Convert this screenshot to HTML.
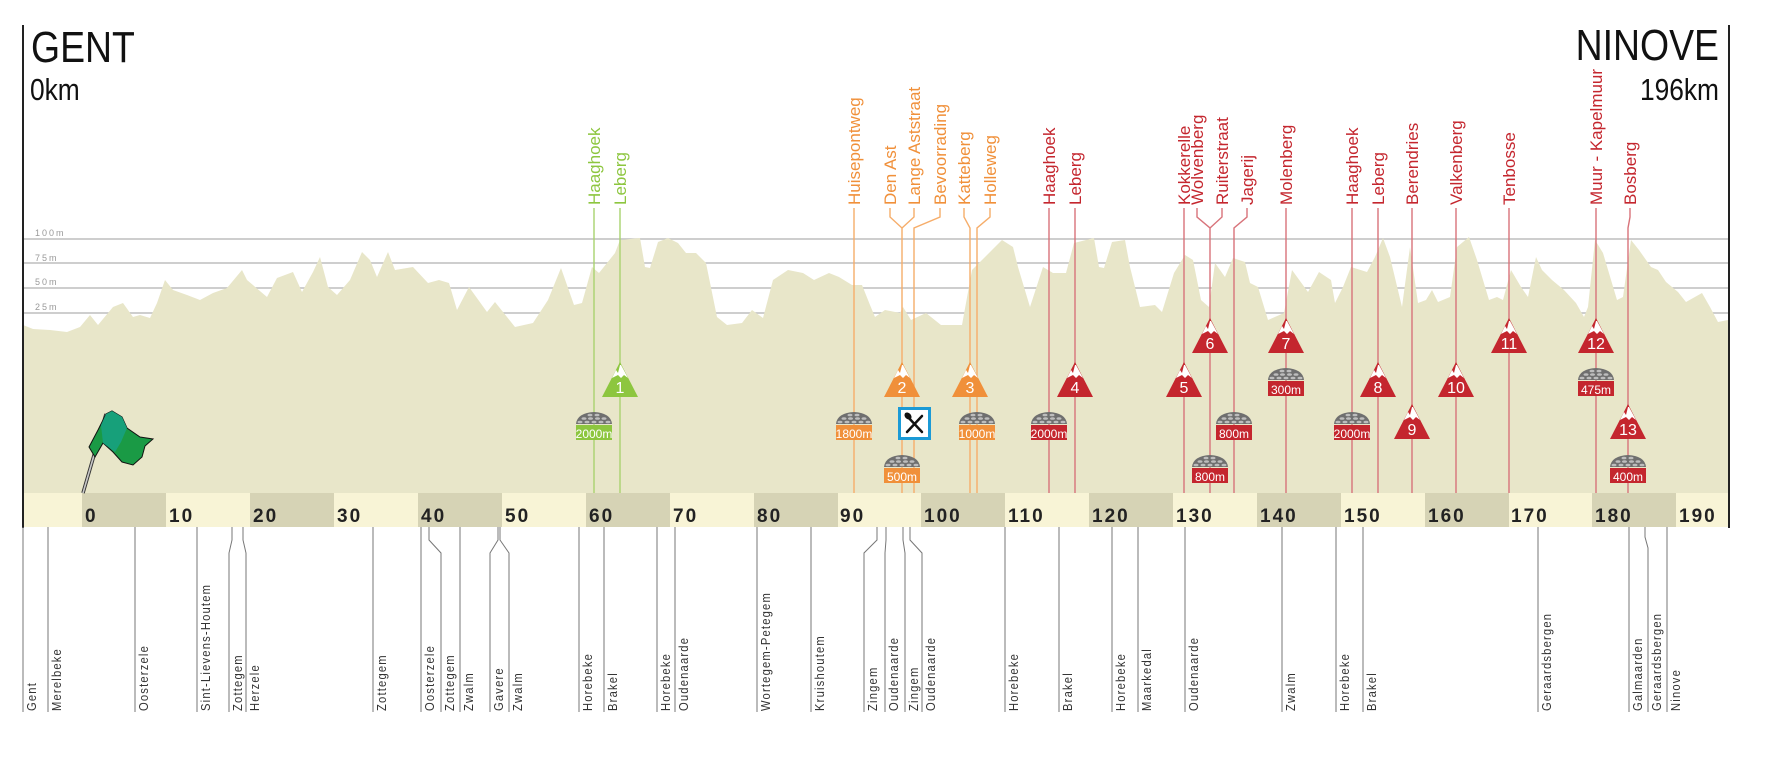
<!DOCTYPE html>
<html><head><meta charset="utf-8"><style>
html,body{margin:0;padding:0;background:#fff;}
svg{display:block;}
.n{font-family:"Liberation Sans Narrow","Liberation Sans",sans-serif;}
.tl{font-size:17px;}
.bl{font-size:13px;letter-spacing:1.4px;fill:#333;}
.km{font-size:19px;letter-spacing:2px;fill:#222;font-weight:bold;}
.cb{font-size:12px;fill:#fff;text-anchor:middle;}
.cn{font-size:16px;fill:#fff;text-anchor:middle;}
.gl{font-size:9px;letter-spacing:2px;fill:#999;}
</style></head><body>
<svg width="1768" height="768" viewBox="0 0 1768 768" xmlns="http://www.w3.org/2000/svg">
<defs>
<g id="cob">
<path d="M-18,12 Q-17,1 0,0 Q17,1 18,12 Z" fill="#6f6f6f"/>
<g fill="#bdbdbd">
<ellipse cx="-4" cy="3" rx="2.5" ry="1.3"/><ellipse cx="3" cy="3" rx="2.5" ry="1.3"/>
<ellipse cx="-10" cy="6.5" rx="2.5" ry="1.3"/><ellipse cx="-3.5" cy="6.5" rx="2.5" ry="1.3"/><ellipse cx="3.5" cy="6.5" rx="2.5" ry="1.3"/><ellipse cx="10" cy="6.5" rx="2.5" ry="1.3"/>
<ellipse cx="-14" cy="10" rx="2.5" ry="1.3"/><ellipse cx="-7" cy="10" rx="2.5" ry="1.3"/><ellipse cx="0" cy="10" rx="2.5" ry="1.3"/><ellipse cx="7" cy="10" rx="2.5" ry="1.3"/><ellipse cx="14" cy="10" rx="2.5" ry="1.3"/>
</g>
</g>
<polygon id="snow" points="-8,16 -4,8 -2,11 0,3 1,3 8,16 4,13 1,16 -2,13" fill="#fff"/>
</defs>

<g stroke="#bdbdbd" stroke-width="1.5">
<line x1="23" y1="239" x2="1728" y2="239"/>
<line x1="23" y1="263" x2="1728" y2="263"/>
<line x1="23" y1="288" x2="1728" y2="288"/>
<line x1="23" y1="313" x2="1728" y2="313"/>
</g>
<g class="n gl">
<text x="35" y="236">100m</text>
<text x="35" y="261">75m</text>
<text x="35" y="285">50m</text>
<text x="35" y="310">25m</text>
</g>

<polygon fill="#e8e6c9" points="23,493 23,325 33,329 50,330 67,332 80,327 90,315 98,325 113,307 123,303 133,317 140,315 150,318 157,303 165,280 173,290 187,295 200,300 213,293 227,288 242,270 247,280 267,297 277,278 293,272 302,292 313,272 320,257 328,287 337,295 350,280 362,252 370,260 377,277 388,252 395,270 413,267 428,283 439,280 449,283 457,310 469,287 487,312 495,302 515,327 533,323 548,300 561,268 574,305 582,303 592,267 599,273 615,253 620,240 640,238 645,267 650,268 658,242 668,238 678,243 686,253 696,253 706,263 717,317 727,325 742,323 752,310 763,318 773,280 788,270 803,273 814,280 829,273 839,277 852,285 862,285 870,305 875,317 885,310 900,313 903,307 911,320 926,313 941,325 962,325 972,270 982,260 992,250 1002,240 1013,247 1018,267 1030,307 1043,267 1053,273 1066,273 1074,243 1094,238 1099,267 1104,268 1112,242 1125,240 1130,267 1140,307 1155,305 1162,312 1174,273 1185,255 1193,260 1201,300 1209,307 1215,263 1225,277 1233,258 1245,262 1250,283 1258,287 1268,320 1284,313 1292,270 1308,292 1319,272 1331,280 1335,303 1343,287 1351,267 1367,272 1375,257 1383,238 1390,257 1402,307 1410,247 1418,303 1426,300 1432,290 1438,302 1450,297 1457,247 1469,237 1477,260 1489,300 1497,297 1503,300 1511,270 1521,287 1528,297 1536,257 1542,270 1552,280 1564,290 1576,303 1584,317 1588,307 1595,240 1603,253 1617,300 1623,297 1631,240 1639,250 1651,267 1658,270 1666,282 1678,292 1686,302 1702,293 1710,307 1718,322 1728,320 1728,493"/>

<rect x="23" y="493" width="1705" height="34" fill="#f8f4d6"/>
<g fill="#d6d3b5">
<rect x="82" y="493" width="84" height="34"/>
<rect x="250" y="493" width="84" height="34"/>
<rect x="418" y="493" width="84" height="34"/>
<rect x="586" y="493" width="84" height="34"/>
<rect x="754" y="493" width="84" height="34"/>
<rect x="921" y="493" width="84" height="34"/>
<rect x="1089" y="493" width="84" height="34"/>
<rect x="1257" y="493" width="84" height="34"/>
<rect x="1425" y="493" width="84" height="34"/>
<rect x="1592" y="493" width="84" height="34"/>
</g>
<g class="n km">
<text x="85" y="522">0</text>
<text x="169" y="522">10</text>
<text x="253" y="522">20</text>
<text x="337" y="522">30</text>
<text x="421" y="522">40</text>
<text x="505" y="522">50</text>
<text x="589" y="522">60</text>
<text x="673" y="522">70</text>
<text x="757" y="522">80</text>
<text x="840" y="522">90</text>
<text x="924" y="522">100</text>
<text x="1008" y="522">110</text>
<text x="1092" y="522">120</text>
<text x="1176" y="522">130</text>
<text x="1260" y="522">140</text>
<text x="1344" y="522">150</text>
<text x="1428" y="522">160</text>
<text x="1511" y="522">170</text>
<text x="1595" y="522">180</text>
<text x="1679" y="522">190</text>
</g>

<line x1="23" y1="25" x2="23" y2="528" stroke="#222" stroke-width="2"/>
<line x1="1729" y1="25" x2="1729" y2="528" stroke="#222" stroke-width="2"/>

<text class="n" transform="translate(31,62) scale(0.85,1)" font-size="44" fill="#111">GENT</text>
<text class="n" transform="translate(30,100) scale(0.85,1)" font-size="31" fill="#111">0km</text>
<text class="n" transform="translate(1719,60) scale(0.85,1)" font-size="44" fill="#111" text-anchor="end">NINOVE</text>
<text class="n" transform="translate(1719,100) scale(0.85,1)" font-size="31" fill="#111" text-anchor="end">196km</text>

<g fill="none" stroke-width="1.4">
<g stroke="#a9d36f">
<polyline points="594,208 594,493"/>
<polyline points="620,208 620,493"/>
</g>
<g stroke="#f6ad6a">
<polyline points="854,208 854,493"/>
<polyline points="890,208 890,217 902,228 902,493"/>
<polyline points="914,208 914,217 902,228"/>
<polyline points="940,208 940,217 914,228 914,493"/>
<polyline points="964,208 964,217 970,228 970,493"/>
<polyline points="990,208 990,217 977,228 977,493"/>
</g>
<g stroke="#d8737a">
<polyline points="1049,208 1049,493"/>
<polyline points="1075,208 1075,493"/>
<polyline points="1184,208 1184,493"/>
<polyline points="1197,208 1197,217 1210,228 1210,493"/>
<polyline points="1222,208 1222,217 1210,228"/>
<polyline points="1247,208 1247,217 1234,228 1234,493"/>
<polyline points="1286,208 1286,493"/>
<polyline points="1352,208 1352,493"/>
<polyline points="1378,208 1378,493"/>
<polyline points="1412,208 1412,493"/>
<polyline points="1456,208 1456,493"/>
<polyline points="1509,208 1509,493"/>
<polyline points="1596,208 1596,493"/>
<polyline points="1630,208 1630,217 1628,228 1628,493"/>
</g>
</g>

<g class="n tl">
<g fill="#8dc63f">
<text transform="translate(600,205) rotate(-90)">Haaghoek</text>
<text transform="translate(626,205) rotate(-90)">Leberg</text>
</g>
<g fill="#f0903a">
<text transform="translate(860,205) rotate(-90)">Huisepontweg</text>
<text transform="translate(896,205) rotate(-90)">Den Ast</text>
<text transform="translate(920,205) rotate(-90)">Lange Aststraat</text>
<text transform="translate(946,205) rotate(-90)">Bevoorrading</text>
<text transform="translate(970,205) rotate(-90)">Katteberg</text>
<text transform="translate(996,205) rotate(-90)">Holleweg</text>
</g>
<g fill="#c4262e">
<text transform="translate(1055,205) rotate(-90)">Haaghoek</text>
<text transform="translate(1081,205) rotate(-90)">Leberg</text>
<text transform="translate(1190,205) rotate(-90)">Kokkerelle</text>
<text transform="translate(1203,205) rotate(-90)">Wolvenberg</text>
<text transform="translate(1228,205) rotate(-90)">Ruiterstraat</text>
<text transform="translate(1253,205) rotate(-90)">Jagerij</text>
<text transform="translate(1292,205) rotate(-90)">Molenberg</text>
<text transform="translate(1358,205) rotate(-90)">Haaghoek</text>
<text transform="translate(1384,205) rotate(-90)">Leberg</text>
<text transform="translate(1418,205) rotate(-90)">Berendries</text>
<text transform="translate(1462,205) rotate(-90)">Valkenberg</text>
<text transform="translate(1515,205) rotate(-90)">Tenbosse</text>
<text transform="translate(1602,205) rotate(-90)">Muur - Kapelmuur</text>
<text transform="translate(1636,205) rotate(-90)">Bosberg</text>
</g>
</g>

<g class="n">
<use href="#cob" x="594" y="412"/><rect x="576" y="425" width="36" height="15" fill="#8dc63f"/><text class="cb" x="594" y="438">2000m</text>
<use href="#cob" x="854" y="412"/><rect x="836" y="425" width="36" height="15" fill="#f0903a"/><text class="cb" x="854" y="438">1800m</text>
<use href="#cob" x="902" y="455"/><rect x="884" y="468" width="36" height="15" fill="#f0903a"/><text class="cb" x="902" y="481">500m</text>
<use href="#cob" x="977" y="412"/><rect x="959" y="425" width="36" height="15" fill="#f0903a"/><text class="cb" x="977" y="438">1000m</text>
<use href="#cob" x="1049" y="412"/><rect x="1031" y="425" width="36" height="15" fill="#c4262e"/><text class="cb" x="1049" y="438">2000m</text>
<use href="#cob" x="1210" y="455"/><rect x="1192" y="468" width="36" height="15" fill="#c4262e"/><text class="cb" x="1210" y="481">800m</text>
<use href="#cob" x="1234" y="412"/><rect x="1216" y="425" width="36" height="15" fill="#c4262e"/><text class="cb" x="1234" y="438">800m</text>
<use href="#cob" x="1286" y="368"/><rect x="1268" y="381" width="36" height="15" fill="#c4262e"/><text class="cb" x="1286" y="394">300m</text>
<use href="#cob" x="1352" y="412"/><rect x="1334" y="425" width="36" height="15" fill="#c4262e"/><text class="cb" x="1352" y="438">2000m</text>
<use href="#cob" x="1596" y="368"/><rect x="1578" y="381" width="36" height="15" fill="#c4262e"/><text class="cb" x="1596" y="394">475m</text>
<use href="#cob" x="1628" y="455"/><rect x="1610" y="468" width="36" height="15" fill="#c4262e"/><text class="cb" x="1628" y="481">400m</text>
</g>

<rect x="899.5" y="408.5" width="30" height="30" fill="#fff" stroke="#1b9ad6" stroke-width="3"/>
<g stroke="#111" stroke-width="2.5" stroke-linecap="round">
<line x1="907" y1="416" x2="922" y2="432"/>
<line x1="922" y1="416" x2="907" y2="432"/>
</g>
<ellipse cx="908" cy="416" rx="3" ry="4" fill="#111" transform="rotate(-45 908 416)"/>

<g class="n">
<polygon points="620,362 602,397 638,397" fill="#8dc63f"/><use href="#snow" x="620" y="362"/><text class="cn" x="620" y="393">1</text>
<polygon points="902,362 884,397 920,397" fill="#f0903a"/><use href="#snow" x="902" y="362"/><text class="cn" x="902" y="393">2</text>
<polygon points="970,362 952,397 988,397" fill="#f0903a"/><use href="#snow" x="970" y="362"/><text class="cn" x="970" y="393">3</text>
<polygon points="1075,362 1057,397 1093,397" fill="#c4262e"/><use href="#snow" x="1075" y="362"/><text class="cn" x="1075" y="393">4</text>
<polygon points="1184,362 1166,397 1202,397" fill="#c4262e"/><use href="#snow" x="1184" y="362"/><text class="cn" x="1184" y="393">5</text>
<polygon points="1210,318 1192,353 1228,353" fill="#c4262e"/><use href="#snow" x="1210" y="318"/><text class="cn" x="1210" y="349">6</text>
<polygon points="1286,318 1268,353 1304,353" fill="#c4262e"/><use href="#snow" x="1286" y="318"/><text class="cn" x="1286" y="349">7</text>
<polygon points="1378,362 1360,397 1396,397" fill="#c4262e"/><use href="#snow" x="1378" y="362"/><text class="cn" x="1378" y="393">8</text>
<polygon points="1412,404 1394,439 1430,439" fill="#c4262e"/><use href="#snow" x="1412" y="404"/><text class="cn" x="1412" y="435">9</text>
<polygon points="1456,362 1438,397 1474,397" fill="#c4262e"/><use href="#snow" x="1456" y="362"/><text class="cn" x="1456" y="393">10</text>
<polygon points="1509,318 1491,353 1527,353" fill="#c4262e"/><use href="#snow" x="1509" y="318"/><text class="cn" x="1509" y="349">11</text>
<polygon points="1596,318 1578,353 1614,353" fill="#c4262e"/><use href="#snow" x="1596" y="318"/><text class="cn" x="1596" y="349">12</text>
<polygon points="1628,404 1610,439 1646,439" fill="#c4262e"/><use href="#snow" x="1628" y="404"/><text class="cn" x="1628" y="435">13</text>
</g>

<line x1="83" y1="493" x2="106" y2="414" stroke="#333" stroke-width="3.5"/>
<line x1="83" y1="493" x2="106" y2="414" stroke="#c8c8c8" stroke-width="1.6"/>
<polygon points="106,414 112,411 122,417 127,428 140,437 153,439 145,446 142,457 133,465 122,462 113,452 103,443 95,457 89,447 98,430" fill="#1a9a45" stroke="#111" stroke-width="1"/>
<polygon points="106,414 112,411 122,417 127,428 121,442 115,452 103,443 101,425" fill="#17a07a"/>

<g fill="none" stroke="#777" stroke-width="1">
<polyline points="23,527 23,712"/>
<polyline points="48,527 48,712"/>
<polyline points="135,527 135,712"/>
<polyline points="197,527 197,712"/>
<polyline points="232,527 232,540 229,553 229,712"/>
<polyline points="243,527 243,540 246,553 246,712"/>
<polyline points="373,527 373,712"/>
<polyline points="421,527 421,712"/>
<polyline points="429,527 429,540 441,553 441,712"/>
<polyline points="460,527 460,712"/>
<polyline points="498,527 498,540 490,553 490,712"/>
<polyline points="500,527 500,540 509,553 509,712"/>
<polyline points="579,527 579,712"/>
<polyline points="604,527 604,712"/>
<polyline points="657,527 657,712"/>
<polyline points="675,527 675,712"/>
<polyline points="757,527 757,712"/>
<polyline points="811,527 811,712"/>
<polyline points="877,527 877,540 864,553 864,712"/>
<polyline points="886,527 886,540 885,553 885,712"/>
<polyline points="903,527 903,540 905,553 905,712"/>
<polyline points="910,527 910,540 922,553 922,712"/>
<polyline points="1005,527 1005,712"/>
<polyline points="1059,527 1059,712"/>
<polyline points="1112,527 1112,712"/>
<polyline points="1138,527 1138,712"/>
<polyline points="1185,527 1185,712"/>
<polyline points="1282,527 1282,712"/>
<polyline points="1336,527 1336,712"/>
<polyline points="1363,527 1363,712"/>
<polyline points="1538,527 1538,712"/>
<polyline points="1629,527 1629,712"/>
<polyline points="1645,527 1645,537 1648,548 1648,712"/>
<polyline points="1667,527 1667,712"/>
</g>
<g class="n bl">
<text transform="translate(36,711) rotate(-90) scale(0.86,1)">Gent</text>
<text transform="translate(61,711) rotate(-90) scale(0.86,1)">Merelbeke</text>
<text transform="translate(148,711) rotate(-90) scale(0.86,1)">Oosterzele</text>
<text transform="translate(210,711) rotate(-90) scale(0.86,1)">Sint-Lievens-Houtem</text>
<text transform="translate(242,711) rotate(-90) scale(0.86,1)">Zottegem</text>
<text transform="translate(259,711) rotate(-90) scale(0.86,1)">Herzele</text>
<text transform="translate(386,711) rotate(-90) scale(0.86,1)">Zottegem</text>
<text transform="translate(434,711) rotate(-90) scale(0.86,1)">Oosterzele</text>
<text transform="translate(454,711) rotate(-90) scale(0.86,1)">Zottegem</text>
<text transform="translate(473,711) rotate(-90) scale(0.86,1)">Zwalm</text>
<text transform="translate(503,711) rotate(-90) scale(0.86,1)">Gavere</text>
<text transform="translate(522,711) rotate(-90) scale(0.86,1)">Zwalm</text>
<text transform="translate(592,711) rotate(-90) scale(0.86,1)">Horebeke</text>
<text transform="translate(617,711) rotate(-90) scale(0.86,1)">Brakel</text>
<text transform="translate(670,711) rotate(-90) scale(0.86,1)">Horebeke</text>
<text transform="translate(688,711) rotate(-90) scale(0.86,1)">Oudenaarde</text>
<text transform="translate(770,711) rotate(-90) scale(0.86,1)">Wortegem-Petegem</text>
<text transform="translate(824,711) rotate(-90) scale(0.86,1)">Kruishoutem</text>
<text transform="translate(877,711) rotate(-90) scale(0.86,1)">Zingem</text>
<text transform="translate(898,711) rotate(-90) scale(0.86,1)">Oudenaarde</text>
<text transform="translate(918,711) rotate(-90) scale(0.86,1)">Zingem</text>
<text transform="translate(935,711) rotate(-90) scale(0.86,1)">Oudenaarde</text>
<text transform="translate(1018,711) rotate(-90) scale(0.86,1)">Horebeke</text>
<text transform="translate(1072,711) rotate(-90) scale(0.86,1)">Brakel</text>
<text transform="translate(1125,711) rotate(-90) scale(0.86,1)">Horebeke</text>
<text transform="translate(1151,711) rotate(-90) scale(0.86,1)">Maarkedal</text>
<text transform="translate(1198,711) rotate(-90) scale(0.86,1)">Oudenaarde</text>
<text transform="translate(1295,711) rotate(-90) scale(0.86,1)">Zwalm</text>
<text transform="translate(1349,711) rotate(-90) scale(0.86,1)">Horebeke</text>
<text transform="translate(1376,711) rotate(-90) scale(0.86,1)">Brakel</text>
<text transform="translate(1551,711) rotate(-90) scale(0.86,1)">Geraardsbergen</text>
<text transform="translate(1642,711) rotate(-90) scale(0.86,1)">Galmaarden</text>
<text transform="translate(1661,711) rotate(-90) scale(0.86,1)">Geraardsbergen</text>
<text transform="translate(1680,711) rotate(-90) scale(0.86,1)">Ninove</text>
</g>
</svg>
</body></html>
